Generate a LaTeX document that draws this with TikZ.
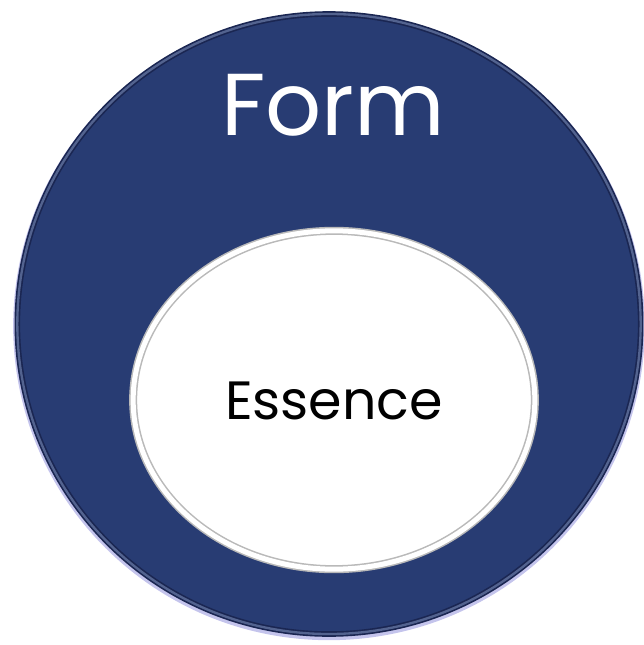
\documentclass[tikz,border=0pt]{standalone}
\usepackage{fontspec}
\setmainfont{Poppins}
\usetikzlibrary{positioning,shapes.geometric}
\definecolor{formblue}{RGB}{40,60,115}
\definecolor{formedge}{RGB}{26,38,82}
\definecolor{formglow}{RGB}{196,196,236}

\begin{document}
\begin{tikzpicture}[
  x=0.03cm, y=-0.03cm,
  every node/.style={inner sep=0pt, outer sep=0pt},
  glow/.style ={ellipse, fill=formglow, minimum width=18.95cm, minimum height=18.85cm},
  disc/.style ={ellipse, fill=formblue, draw=formedge, line width=1.4pt, double=formblue!80!white, double distance=0.07cm, minimum width=18.7cm, minimum height=18.6cm},
  hole/.style ={ellipse, fill=white, draw=gray!55, line width=1.3pt, double=white, double distance=0.15cm, minimum width=12.05cm, minimum height=10.15cm},
  big/.style  ={font=\fontsize{75}{80}\selectfont, text=white},
  small/.style={font=\fontsize{46}{52}\selectfont, text=black},
]
\useasboundingbox (0,0) rectangle (643,645);

\node[glow] (formglow) at (329,326) {};
\node[disc] (formdisc) at (329,324) {};
\node[hole] (essencedisc) at (334,400) {};

\node[big, anchor=base] (formlabel) at (333,135) {Form};
\node[small, anchor=base] (essencelabel) at (334,419) {Essence};

\end{tikzpicture}
\end{document}
